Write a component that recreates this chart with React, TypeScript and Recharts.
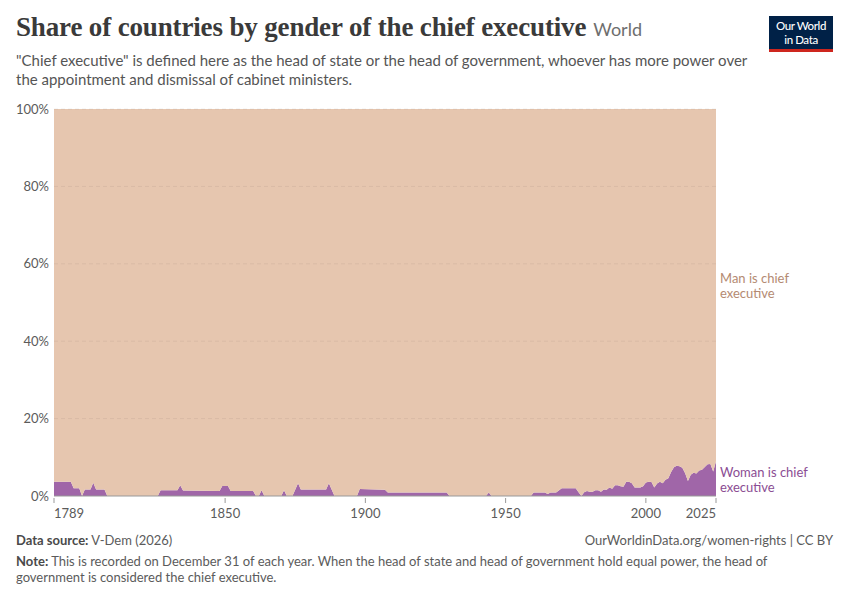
import React from "react";
import { AreaChart, Area, XAxis, YAxis, ReferenceLine } from "recharts";

const years = [
  1789, 1795, 1796, 1798, 1799, 1800, 1802, 1803, 1804, 1807, 1808, 1826, 1827, 1833, 1834, 1835,
  1848, 1849, 1851, 1852, 1860, 1861, 1862, 1863, 1864, 1870, 1871, 1872, 1874, 1876, 1877, 1886,
  1887, 1889, 1897, 1898, 1907, 1908, 1929, 1930, 1943, 1944, 1945, 1959, 1960, 1964, 1965, 1966,
  1968, 1970, 1975, 1976, 1977, 1978, 1979, 1980, 1981, 1982, 1983, 1984, 1985, 1986, 1987, 1988,
  1989, 1990, 1991, 1992, 1993, 1994, 1995, 1996, 1997, 1998, 1999, 2000, 2001, 2002, 2003, 2004,
  2005, 2006, 2007, 2008, 2009, 2010, 2011, 2012, 2013, 2014, 2015, 2016, 2017, 2018, 2019, 2020,
  2021, 2022, 2023, 2024, 2025,
];

const womanShare = [
  3.7, 3.7, 2.0, 2.0, 0, 1.7, 1.7, 3.4, 1.7, 1.7, 0, 0, 1.5, 1.5, 2.8, 1.4,
  1.3, 2.6, 2.6, 1.3, 1.3, 0, 0, 1.5, 0, 0, 1.5, 0, 0, 3.3, 1.7, 1.7,
  3.3, 0, 0, 1.8, 1.6, 0.9, 0.9, 0, 0, 0.9, 0, 0, 0.9, 0.9, 0.5, 0.9,
  0.9, 2.0, 2.0, 1.0, 0, 1.0, 1.3, 1.1, 1.1, 1.5, 1.5, 1.1, 1.7, 1.6, 2.2, 1.9,
  2.8, 2.8, 2.5, 2.4, 3.7, 3.7, 3.3, 2.2, 2.2, 2.2, 2.5, 3.5, 3.7, 3.6, 2.2, 3.2,
  3.7, 3.3, 4.2, 4.6, 6.2, 7.4, 7.8, 7.7, 7.3, 5.9, 3.9, 5.5, 6.0, 5.8, 6.6, 6.8,
  7.5, 8.2, 8.3, 6.3, 9.0,
];

const manShare = [
  96.3, 96.3, 98.0, 98.0, 100, 98.3, 98.3, 96.6, 98.3, 98.3, 100, 100, 98.5, 98.5, 97.2, 98.6,
  98.7, 97.4, 97.4, 98.7, 98.7, 100, 100, 98.5, 100, 100, 98.5, 100, 100, 96.7, 98.3, 98.3,
  96.7, 100, 100, 98.2, 98.4, 99.1, 99.1, 100, 100, 99.1, 100, 100, 99.1, 99.1, 99.5, 99.1,
  99.1, 98.0, 98.0, 99.0, 100, 99.0, 98.7, 98.9, 98.9, 98.5, 98.5, 98.9, 98.3, 98.4, 97.8, 98.1,
  97.2, 97.2, 97.5, 97.6, 96.3, 96.3, 96.7, 97.8, 97.8, 97.8, 97.5, 96.5, 96.3, 96.4, 97.8, 96.8,
  96.3, 96.7, 95.8, 95.4, 93.8, 92.6, 92.2, 92.3, 92.7, 94.1, 96.1, 94.5, 94.0, 94.2, 93.4, 93.2,
  92.5, 91.8, 91.7, 93.7, 91.0,
];

const xTicks = [1789, 1850, 1900, 1950, 2000, 2025];
const yTicks = [0, 20, 40, 60, 80, 100];

const data = years.map((year, i) => ({ year, woman: womanShare[i], man: manShare[i] }));

const FONT = "Lato, 'Noto Sans', sans-serif";

const XTick = (props: any) => {
  const { x, y, payload } = props;
  const v = payload.value;
  const anchor = v === xTicks[0] ? "start" : v === xTicks[xTicks.length - 1] ? "end" : "middle";
  return (
    <g>
      <line x1={x} y1={y - 8} x2={x} y2={y - 3} stroke="#999" strokeWidth={1} />
      <text x={x} y={y + 12} textAnchor={anchor} fill="#5b5b5b" fontSize={13} fontFamily={FONT}>
        {v}
      </text>
    </g>
  );
};

export default function App() {
  return (
    <div
      style={{
        position: "fixed",
        left: 0,
        top: 0,
        width: 850,
        height: 600,
        background: "#fff",
        fontFamily: FONT,
        overflow: "hidden",
      }}
    >
      <div style={{ position: "absolute", left: 16, top: 12, whiteSpace: "nowrap" }}>
        <span
          style={{
            fontFamily: "'Liberation Serif', 'DejaVu Serif', serif",
            fontSize: 27,
            fontWeight: 700,
            color: "#3a3a3a",
            letterSpacing: -0.15,
          }}
        >
          Share of countries by gender of the chief executive
        </span>
        <span style={{ fontFamily: FONT, fontSize: 18, color: "#6e6e6e", marginLeft: 7 }}>World</span>
      </div>
      <div
        style={{
          position: "absolute",
          left: 16,
          top: 51,
          width: 740,
          fontSize: 15,
          lineHeight: "19px",
          color: "#555",
        }}
      >
        "Chief executive" is defined here as the head of state or the head of government, whoever has more power over
        the appointment and dismissal of cabinet ministers.
      </div>

      <div
        style={{
          position: "absolute",
          left: 769,
          top: 16,
          width: 64,
          height: 36,
          background: "#002147",
          borderBottom: "3px solid #ce261e",
          boxSizing: "border-box",
          color: "#fff",
          fontSize: 11.5,
          textAlign: "center",
          letterSpacing: -0.4,
          fontWeight: 500,
        }}
      >
        <div style={{ position: "absolute", left: 0, width: 64, top: 3, lineHeight: "13px" }}>Our World</div>
        <div style={{ position: "absolute", left: 0, width: 64, top: 17, lineHeight: "13px" }}>in Data</div>
      </div>

      <div style={{ position: "absolute", left: 0, top: 0 }}>
        <AreaChart
          width={850}
          height={600}
          data={data}
          margin={{ top: 109, right: 134, bottom: 74, left: 0 }}
        >
          <XAxis
            dataKey="year"
            type="number"
            domain={[1789, 2025]}
            ticks={xTicks}
            allowDataOverflow
            height={30}
            tickLine={false}
            axisLine={{ stroke: "#999" }}
            tick={<XTick />}
            tickSize={8}
            interval={0}
          />
          <YAxis
            type="number"
            domain={[0, 100]}
            ticks={yTicks}
            width={54}
            tickSize={0}
            tickMargin={5}
            axisLine={false}
            tickLine={false}
            tickFormatter={(v: number) => `${v}%`}
            tick={{ fill: "#5b5b5b", fontSize: 13, fontFamily: FONT }}
          />
          <Area
            type="linear"
            dataKey="woman"
            stackId="s"
            stroke="none"
            fill="#a066a8"
            fillOpacity={1}
            isAnimationActive={false}
          />
          <Area
            type="linear"
            dataKey="man"
            stackId="s"
            stroke="none"
            fill="#e6c6af"
            fillOpacity={1}
            isAnimationActive={false}
          />
          {yTicks.slice(1).map((t) => (
            <ReferenceLine
              key={t}
              y={t}
              stroke="#000"
              strokeOpacity={0.06}
              strokeDasharray="4 3"
            />
          ))}
        </AreaChart>
      </div>

      <div style={{ position: "absolute", left: 720, top: 271, fontSize: 13, lineHeight: "15px", color: "#b48a72" }}>
        Man is chief
        <br />
        executive
      </div>
      <div style={{ position: "absolute", left: 720, top: 465, fontSize: 13, lineHeight: "15px", color: "#8b4d93" }}>
        Woman is chief
        <br />
        executive
      </div>

      <div style={{ position: "absolute", left: 16, top: 532, fontSize: 13, lineHeight: "16px", color: "#5b5b5b", whiteSpace: "nowrap" }}>
        <b style={{ fontWeight: 700, color: "#4a4a4a" }}>Data source:</b> V-Dem (2026)
      </div>
      <div
        style={{ position: "absolute", right: 17, top: 532, fontSize: 13, lineHeight: "16px", color: "#5b5b5b", whiteSpace: "nowrap" }}
      >
        OurWorldinData.org/women-rights | CC BY
      </div>
      <div
        style={{
          position: "absolute",
          left: 16,
          top: 553,
          fontSize: 13,
          lineHeight: "16px",
          color: "#5b5b5b",
          whiteSpace: "nowrap",
        }}
      >
        <b style={{ fontWeight: 700, color: "#4a4a4a" }}>Note:</b> This is recorded on December 31 of each year. When the
        head of state and head of government hold equal power, the head of
      </div>
      <div
        style={{
          position: "absolute",
          left: 16,
          top: 569,
          fontSize: 13,
          lineHeight: "16px",
          color: "#5b5b5b",
          whiteSpace: "nowrap",
        }}
      >
        government is considered the chief executive.
      </div>
    </div>
  );
}
